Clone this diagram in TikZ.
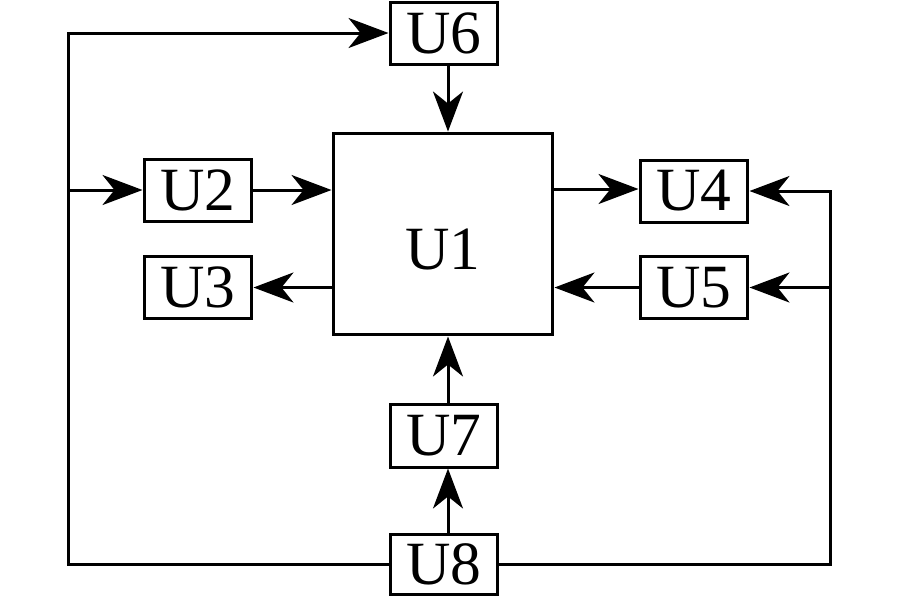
\documentclass[tikz,border=0pt]{standalone}
\usepackage{fontspec}
\setmainfont{Liberation Serif}
\usetikzlibrary{arrows.meta}
\begin{document}
\begin{tikzpicture}[x=0.02cm,y=-0.02cm,
  lw/.style={line width=0.06cm},
  blk/.style={draw,lw,minimum width=2.16cm,minimum height=1.24cm,inner sep=0pt,
    font=\fontsize{35}{38}\selectfont},
  arr/.style={lw,-{Stealth[length=0.8cm,width=0.6cm,inset=0.24cm]}},
  ln/.style={lw}]
\useasboundingbox (0,0) rectangle (900,600);
\node[blk] (u6) at (444,33) {U6};
\node[blk,minimum width=4.4cm,minimum height=4.04cm,text height=1.4cm,text depth=0cm] (u1) at (443,234) {U1};
\node[blk] (u2) at (198,190) {U2};
\node[blk] (u3) at (198,287.5) {U3};
\node[blk] (u4) at (694,191) {U4};
\node[blk] (u5) at (694,287.5) {U5};
\node[blk,minimum height=1.26cm] (u7) at (444,435.5) {U7};
\node[blk,minimum height=1.2cm] (u8) at (444,564) {U8};
\coordinate (L) at (68,0);
\coordinate (R) at (830,0);
% vertical
\draw[arr] ([xshift=0.08cm]u6.south) -- ([xshift=0.08cm]u6.south |- u1.north);
\draw[arr] ([xshift=0.08cm]u7.north) -- ([xshift=0.08cm]u7.north |- u1.south);
\draw[arr] ([xshift=0.08cm]u8.north) -- ([xshift=0.08cm]u8.north |- u7.south);
% horizontal
\draw[arr] (u2.east) -- (u2.east -| u1.west);
\draw[arr] ([yshift=0.04cm]u1.east |- u4.west) -- ([yshift=0.04cm]u4.west);
\draw[arr] (u1.west |- u3.east) -- (u3.east);
\draw[arr] (u5.west) -- (u5.west -| u1.east);
% loops
\draw[arr] (u8.west) -| (L |- u6.west) -- (u6.west);
\draw[arr] (L |- u2.west) -- (u2.west);
\draw[arr] (u8.east) -| (R |- u4.east) -- (u4.east);
\draw[arr] (R |- u5.east) -- (u5.east);
\end{tikzpicture}
\end{document}
